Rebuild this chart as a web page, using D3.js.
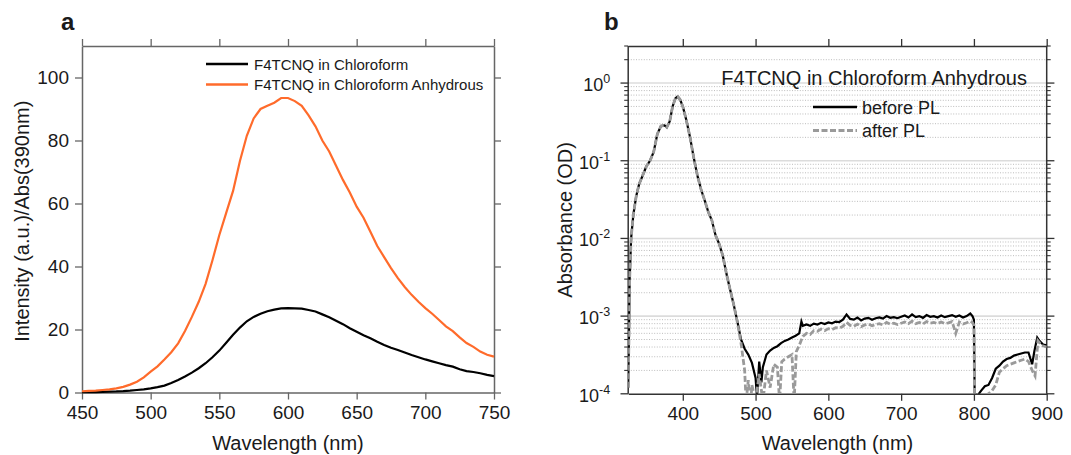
<!DOCTYPE html>
<html><head><meta charset="utf-8">
<script src="https://cdn.jsdelivr.net/npm/d3@7"></script>
<style>
body{margin:0;background:#fff;}
svg text{font-family:"Liberation Sans",Arial,sans-serif;fill:#1a1a1a;}
</style></head>
<body><svg id="c" width="1071" height="455"></svg>
<script>
// ---------- Panel a data ----------
const aWave = [450,455,460,465,470,475,480,485,490,495,500,505,510,515,520,525,530,535,540,545,550,555,560,565,570,575,580,585,590,595,600,605,610,615,620,625,630,635,640,645,650,655,660,665,670,675,680,685,690,695,700,705,710,715,720,725,730,735,740,745,750];
const intChloroform = [0.1,0.1,0.15,0.2,0.3,0.35,0.45,0.6,0.8,1.0,1.3,1.7,2.2,3.0,4.0,5.1,6.3,7.7,9.3,11.2,13.3,15.8,18.3,20.6,22.6,24.0,25.0,25.8,26.3,26.7,26.8,26.7,26.6,26.2,25.7,24.8,23.9,22.8,21.7,20.4,19.3,18.2,17.2,16.1,15.1,14.2,13.5,12.7,11.9,11.2,10.5,9.9,9.3,8.7,8.2,7.4,6.8,6.5,6.1,5.6,5.2];
const intAnhydrous = [0.4,0.5,0.6,0.8,1.0,1.3,1.8,2.5,3.4,4.8,6.6,8.3,10.5,12.8,15.6,19.5,24.0,28.8,34.5,42.0,50.0,57.0,64.0,73.5,81.5,87.0,90.0,91.0,92.0,93.5,93.5,92.5,91.0,88.0,84.5,80.0,76.5,72.0,67.5,63.5,59.0,55.5,51.0,46.5,43.0,39.5,36.3,33.5,31.0,28.8,26.8,25.0,23.0,21.0,19.5,17.5,15.7,14.5,13.0,12.0,11.4];
const aXTicks = [450,500,550,600,650,700,750];
const aYTicks = [0,20,40,60,80,100];
const aLegend = ["F4TCNQ in Chloroform","F4TCNQ in Chloroform Anhydrous"];

// ---------- Panel b data ----------
const bWaveBefore = [325,326,327,329,332,336,340,345,350,355,360,365,370,375,378,382,386,390,393,396,400,405,410,415,420,425,430,435,440,445,450,455,460,465,470,475,480,485,490,495,500,502,505,508,510,515,520,525,530,535,540,545,550,555,560,563,565,570,575,580,585,590,595,600,605,610,615,620,625,630,635,640,645,650,655,660,665,670,675,680,685,690,695,700,705,710,715,720,725,730,735,740,745,750,755,760,765,770,775,780,785,790,795,798,800,801,805,810,815,820,825,830,835,840,845,850,855,860,865,870,875,880,883,887,890,895,900];
const absBefore = [1.2e-4,5e-4,3e-3,0.01,0.02,0.035,0.05,0.065,0.085,0.1,0.13,0.22,0.28,0.285,0.27,0.32,0.5,0.64,0.67,0.62,0.5,0.33,0.2,0.11,0.065,0.043,0.031,0.022,0.017,0.011,0.0085,0.006,0.0035,0.0022,0.0014,8.5e-4,5e-4,3.8e-4,3.2e-4,2.5e-4,1.6e-4,0.9e-4,2.6e-4,1.4e-4,2.2e-4,3.2e-4,3.6e-4,3.9e-4,4.1e-4,4.5e-4,4.8e-4,5e-4,5.3e-4,5.6e-4,6e-4,8.5e-4,7.5e-4,7.8e-4,7.5e-4,8e-4,7.8e-4,8.2e-4,7.9e-4,8.3e-4,8.1e-4,8.5e-4,8.4e-4,9e-4,1.05e-3,9.2e-4,9e-4,9.6e-4,8.8e-4,9.3e-4,9.5e-4,9e-4,9.4e-4,9.6e-4,9.3e-4,1e-3,9.5e-4,9.7e-4,9.4e-4,9.8e-4,1.02e-3,9.6e-4,1.05e-3,9.7e-4,1e-3,9.5e-4,1.03e-3,9.8e-4,1e-3,9.6e-4,1.02e-3,9.7e-4,1e-3,1.03e-3,9.8e-4,1.02e-3,9.6e-4,1e-3,1.08e-3,1.0e-3,9e-4,1e-4,0.95e-4,1.1e-4,1.25e-4,1.3e-4,1.6e-4,2.1e-4,2.3e-4,2.6e-4,2.8e-4,2.9e-4,3.1e-4,3.2e-4,3.3e-4,3.4e-4,3.4e-4,2.4e-4,3.5e-4,5.3e-4,4.8e-4,4.3e-4,4.2e-4];
const bWaveAfter = [325,326,327,329,332,336,340,345,350,355,360,365,370,375,378,382,386,390,393,396,400,405,410,415,420,425,430,435,440,445,450,455,460,465,470,475,480,485,487,490,493,495,500,505,510,515,520,525,530,533,536,540,545,550,553,556,560,565,570,575,580,585,590,595,600,605,610,615,620,625,630,635,640,645,650,655,660,665,670,675,680,685,690,695,700,705,710,715,720,725,730,735,740,745,750,755,760,765,770,775,780,785,790,795,798,800,801,805,810,815,820,825,830,835,840,845,850,855,860,865,870,875,880,884,888,893,900];
const absAfter = [1.2e-4,5e-4,3e-3,0.01,0.02,0.035,0.05,0.065,0.085,0.1,0.13,0.22,0.28,0.285,0.27,0.32,0.5,0.64,0.67,0.62,0.5,0.33,0.2,0.11,0.065,0.043,0.031,0.022,0.017,0.011,0.0085,0.006,0.0035,0.0022,0.0014,8.3e-4,4.5e-4,2e-4,0.8e-4,1.5e-4,0.7e-4,1.3e-4,0.8e-4,1.8e-4,0.8e-4,2e-4,1.2e-4,2.4e-4,2.2e-4,0.8e-4,2.6e-4,2.8e-4,3e-4,3.2e-4,0.8e-4,3.5e-4,4.2e-4,5.5e-4,6e-4,5.8e-4,6.5e-4,6.4e-4,6.8e-4,6.5e-4,6.9e-4,6.7e-4,7.1e-4,7e-4,7.4e-4,8.3e-4,7.6e-4,7.4e-4,7.9e-4,7.3e-4,7.7e-4,7.9e-4,7.5e-4,7.8e-4,8e-4,7.7e-4,8.3e-4,7.9e-4,8.1e-4,7.8e-4,8.1e-4,8.4e-4,8e-4,8.6e-4,8e-4,8.3e-4,7.9e-4,8.5e-4,8.1e-4,8.3e-4,8e-4,8.4e-4,8e-4,8.2e-4,8.5e-4,6e-4,8.4e-4,7.9e-4,8.2e-4,8.6e-4,8.3e-4,7.6e-4,0.8e-4,0.85e-4,0.9e-4,0.95e-4,1e-4,1.1e-4,1.3e-4,1.9e-4,2.1e-4,2.3e-4,2.4e-4,2.5e-4,2.6e-4,2.7e-4,2.8e-4,2.6e-4,2e-4,1.7e-4,4.8e-4,4.2e-4,4e-4];
const bXTicks = [400,500,600,700,800,900];
const bYTicks = [-4,-3,-2,-1,0];
const bTitle = "F4TCNQ in Chloroform Anhydrous";
const bLegend = ["before PL","after PL"];

const svg = d3.select("#c");
const ORANGE = "#ff6b2b";

// ================= Panel a =================
(function(){
  const L=82,R=494,T=46,B=392.5;
  const x=d3.scaleLinear().domain([450,750]).range([L,R]);
  const y=d3.scaleLinear().domain([0,110]).range([B,T]);
  const g=svg.append("g");
  const ax="#666";
  const mk=(axis)=>g.append("g").call(axis.tickSizeOuter(0)).call(s=>{s.select(".domain").attr("stroke",ax).attr("stroke-width",1.5).attr("fill","none");s.selectAll(".tick line").attr("stroke",ax).attr("stroke-width",1.3);});
  const bx=mk(d3.axisBottom(x).tickValues(aXTicks).tickSize(7).tickPadding(6)).attr("transform",`translate(0,${B})`);
  bx.selectAll("text").style("font-size","19px").attr("fill","#1a1a1a");
  mk(d3.axisTop(x).tickValues(aXTicks).tickSize(7).tickFormat("")).attr("transform",`translate(0,${T})`);
  const ly=mk(d3.axisLeft(y).tickValues(aYTicks).tickSize(7).tickPadding(6)).attr("transform",`translate(${L},0)`);
  ly.selectAll("text").style("font-size","19px").attr("fill","#1a1a1a");
  mk(d3.axisRight(y).tickValues(aYTicks).tickSize(7).tickFormat("")).attr("transform",`translate(${R},0)`);
  const line=d3.line().x(d=>x(d[0])).y(d=>y(d[1]));
  g.append("path").datum(aWave.map((w,i)=>[w,intChloroform[i]])).attr("d",line).attr("fill","none").attr("stroke","#000").attr("stroke-width",2.2);
  g.append("path").datum(aWave.map((w,i)=>[w,intAnhydrous[i]])).attr("d",line).attr("fill","none").attr("stroke",ORANGE).attr("stroke-width",2.2);
  // legend
  const cols=["#000",ORANGE];
  aLegend.forEach((t,i)=>{
    const yy=64+i*20.5;
    g.append("line").attr("x1",206).attr("x2",248).attr("y1",yy).attr("y2",yy).attr("stroke",cols[i]).attr("stroke-width",2.5);
    g.append("text").attr("x",254).attr("y",yy+5.5).style("font-size","15px").text(t);
  });
  g.append("text").attr("x",(L+R)/2).attr("y",450).attr("text-anchor","middle").style("font-size","20px").text("Wavelength (nm)");
  g.append("text").attr("transform",`translate(29,${(T+B)/2+2}) rotate(-90)`).attr("text-anchor","middle").style("font-size","20px").text("Intensity (a.u.)/Abs(390nm)");
  g.append("text").attr("x",61).attr("y",30).style("font-size","24px").style("font-weight","bold").text("a");
})();

// ================= Panel b =================
(function(){
  const L=628.2,R=1046.7,T=46,B=393.8;
  const x=d3.scaleLinear().domain([325,900]).range([L,R]);
  const y=d3.scaleLog().domain([1e-4,3]).range([B,T]);
  const g=svg.append("g");
  const ax="#333";
  // grid
  const minors=[], majors=[];
  bYTicks.forEach(k=>{ majors.push(Math.pow(10,k)); [2,3,4,5,6,7,8,9].forEach(m=>{const v=m*Math.pow(10,k); if(v<=3.0001) minors.push(v);}); });
  g.selectAll(".gmin").data(minors.filter(v=>v<2.99)).enter().append("line")
    .attr("x1",L).attr("x2",R).attr("y1",d=>y(d)).attr("y2",d=>y(d))
    .attr("stroke","#b5b5b5").attr("stroke-width",0.9).attr("stroke-dasharray","1,1.6");
  g.selectAll(".gmaj").data(majors.filter(v=>v>1e-4)).enter().append("line")
    .attr("x1",L).attr("x2",R).attr("y1",d=>y(d)).attr("y2",d=>y(d))
    .attr("stroke","#dcdcdc").attr("stroke-width",1.6);
  const style=s=>{s.select(".domain").attr("stroke",ax).attr("stroke-width",1.5).attr("fill","none");s.selectAll(".tick line").attr("stroke",ax).attr("stroke-width",1.3);};
  g.append("g").attr("transform",`translate(0,${B})`).call(d3.axisBottom(x).tickValues(bXTicks).tickSize(7).tickSizeOuter(0).tickPadding(6)).call(style)
    .selectAll("text").style("font-size","19px").attr("fill","#1a1a1a");
  g.append("g").attr("transform",`translate(0,${T})`).call(d3.axisTop(x).tickValues(bXTicks).tickSize(7).tickSizeOuter(0).tickFormat("")).call(style);
  // left / right axes with minor ticks
  [[L,-1],[R,1]].forEach(([xx,dir])=>{
    g.append("line").attr("x1",xx).attr("x2",xx).attr("y1",T).attr("y2",B).attr("stroke",ax).attr("stroke-width",1.5);
    g.selectAll(null).data(minors).enter().append("line").attr("x1",xx).attr("x2",xx+dir*4).attr("y1",d=>y(d)).attr("y2",d=>y(d)).attr("stroke",ax).attr("stroke-width",1.1);
    g.selectAll(null).data(majors).enter().append("line").attr("x1",xx).attr("x2",xx+dir*7.7).attr("y1",d=>y(d)).attr("y2",d=>y(d)).attr("stroke",ax).attr("stroke-width",1.3);
  });
  // y labels
  bYTicks.forEach(k=>{
    const t=g.append("text").attr("x",L-18).attr("y",y(Math.pow(10,k))+8).attr("text-anchor","end").style("font-size","18px");
    t.append("tspan").text("10");
    t.append("tspan").attr("dy",-8).style("font-size","12.5px").text(k===0?"0":"-"+Math.abs(k));
  });
  // clip
  svg.append("clipPath").attr("id","clipb").append("rect").attr("x",L).attr("y",T).attr("width",R-L).attr("height",B-T);
  const line=d3.line().x(d=>x(d[0])).y(d=>y(Math.max(d[1],5e-5)));
  const cg=g.append("g").attr("clip-path","url(#clipb)");
  cg.append("path").datum(bWaveBefore.map((w,i)=>[w,absBefore[i]])).attr("d",line).attr("fill","none").attr("stroke","#000").attr("stroke-width",2.2);
  cg.append("path").datum(bWaveAfter.map((w,i)=>[w,absAfter[i]])).attr("d",line).attr("fill","none").attr("stroke","#9a9a9a").attr("stroke-width",2.8).attr("stroke-dasharray","6,2.5");
  // title & legend
  g.append("text").attr("x",1027).attr("y",85).attr("text-anchor","end").style("font-size","20px").text(bTitle);
  const lc=[["#000",null,2.5],["#9a9a9a","6,2.5",2.8]];
  bLegend.forEach((t,i)=>{
    const yy=107+i*23.5;
    const ln=g.append("line").attr("x1",813).attr("x2",857).attr("y1",yy).attr("y2",yy).attr("stroke",lc[i][0]).attr("stroke-width",lc[i][2]);
    if(lc[i][1]) ln.attr("stroke-dasharray",lc[i][1]);
    g.append("text").attr("x",862).attr("y",yy+6.5).style("font-size","18px").text(t);
  });
  g.append("text").attr("x",(L+R)/2).attr("y",450).attr("text-anchor","middle").style("font-size","20px").text("Wavelength (nm)");
  g.append("text").attr("transform",`translate(572,${(T+B)/2}) rotate(-90)`).attr("text-anchor","middle").style("font-size","20px").text("Absorbance (OD)");
  g.append("text").attr("x",604).attr("y",30).style("font-size","24px").style("font-weight","bold").text("b");
})();
</script></body></html>
